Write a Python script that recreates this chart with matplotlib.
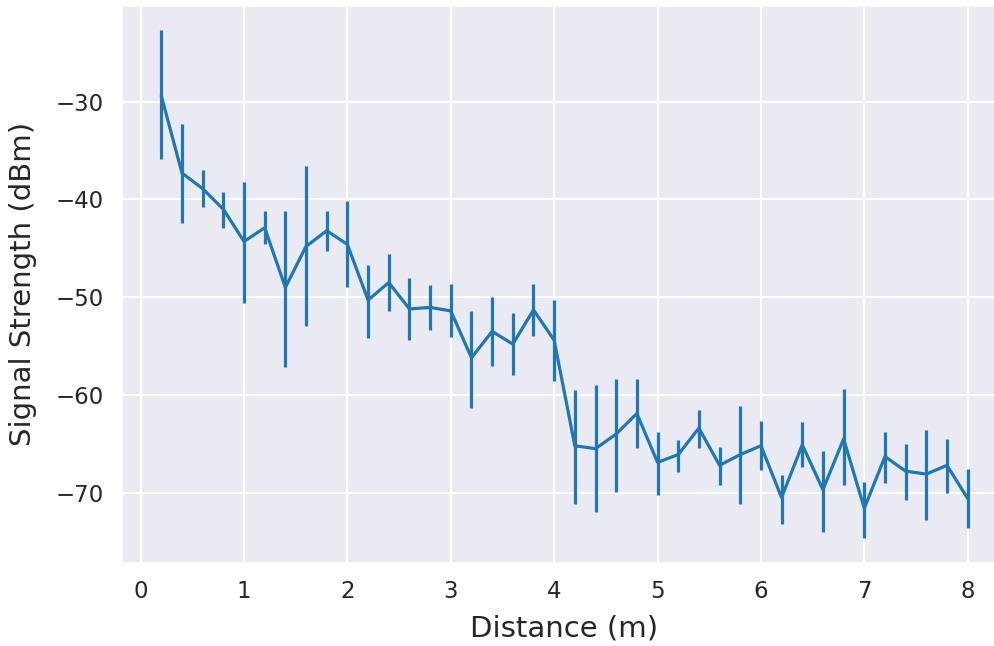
import numpy as np
import matplotlib
matplotlib.use("Agg")
import matplotlib.pyplot as plt
import seaborn as sns

# distance steps (m)
distance = [0.2, 0.4, 0.6, 0.8, 1.0, 1.2, 1.4, 1.6, 1.8, 2.0,
            2.2, 2.4, 2.6, 2.8, 3.0, 3.2, 3.4, 3.6, 3.8, 4.0,
            4.2, 4.4, 4.6, 4.8, 5.0, 5.2, 5.4, 5.6, 5.8, 6.0,
            6.2, 6.4, 6.6, 6.8, 7.0, 7.2, 7.4, 7.6, 7.8, 8.0]

# mean signal strength (dBm)
signal = [-29.4, -37.3, -38.9, -41.0, -44.3, -42.9, -49.0, -44.8, -43.2, -44.6,
          -50.3, -48.5, -51.2, -51.05, -51.4, -56.2, -53.5, -54.8, -51.3, -54.4,
          -65.2, -65.5, -64.0, -61.9, -66.9, -66.1, -63.4, -67.2, -66.1, -65.2,
          -70.5, -65.1, -69.7, -64.5, -71.6, -66.3, -67.8, -68.1, -67.2, -70.6]

# top and bottom of each error bar (dBm)
err_high = [-22.7, -32.3, -37.0, -39.2, -38.2, -41.2, -41.2, -36.6, -41.2, -40.2,
            -46.7, -45.6, -48.0, -48.8, -48.6, -51.4, -50.0, -51.6, -48.6, -50.3,
            -59.5, -59.0, -58.4, -58.4, -63.8, -64.6, -61.5, -65.3, -61.1, -62.7,
            -68.2, -62.8, -65.7, -59.4, -68.9, -63.8, -65.0, -63.6, -64.5, -67.6]
err_low = [-35.9, -42.4, -40.75, -42.9, -50.6, -44.6, -57.1, -52.9, -45.3, -49.0,
           -54.2, -51.4, -54.4, -53.4, -54.1, -61.3, -57.0, -58.0, -54.0, -58.6,
           -71.2, -72.0, -69.9, -65.4, -70.2, -67.9, -65.4, -69.2, -71.2, -67.7,
           -73.2, -67.4, -74.0, -69.2, -74.6, -69.0, -70.7, -72.8, -70.0, -73.6]

sns.set_theme(style="darkgrid", context="talk")

fig = plt.figure(figsize=(9.95, 6.46), dpi=100)
ax = fig.add_axes([121 / 995, 83 / 646, (1008 - 121) / 995, 558 / 646])

sig = np.array(signal)
yerr = [sig - np.array(err_low), np.array(err_high) - sig]
ax.errorbar(distance, signal, yerr=yerr, color="#1f77b4", lw=2.3, elinewidth=2.3)

ax.set_xticks(range(0, 9))
ax.set_xlabel("Distance (m)", fontsize=21, labelpad=8)
ax.set_ylabel("Signal Strength (dBm)", fontsize=21, labelpad=13)

fig.savefig("out.png", dpi=100)
